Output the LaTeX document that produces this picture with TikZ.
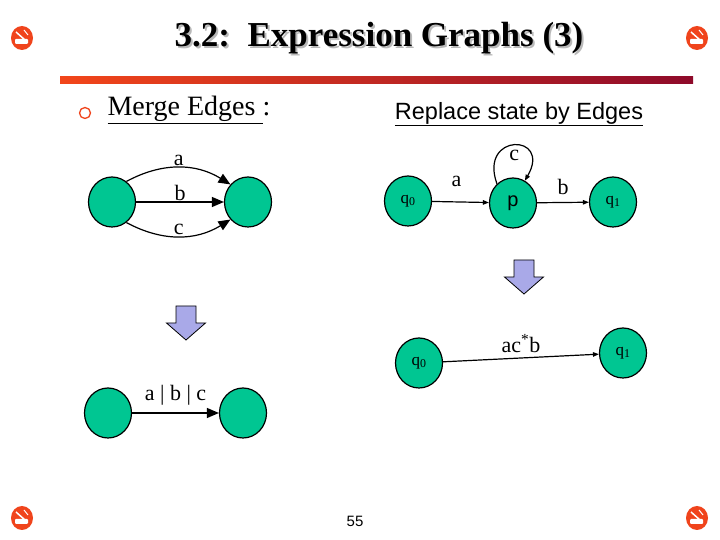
\documentclass[tikz,border=0pt]{standalone}
\usepackage{fontspec}
\setmainfont{Liberation Serif}
\setsansfont{Liberation Sans}
\usetikzlibrary{shapes.geometric, arrows.meta, positioning}
\definecolor{stategreen}{HTML}{00C692}
\definecolor{iconred}{HTML}{F0441C}
\definecolor{barred}{HTML}{F2461A}
\definecolor{bardark}{HTML}{8E0A2A}
\definecolor{arrowblue}{HTML}{A9A9E8}

\begin{document}
\begin{tikzpicture}[
    x=1pt, y=1pt,
    state/.style={ellipse, draw=black, line width=1.2pt, fill=stategreen, minimum width=47pt, minimum height=50pt, inner sep=0pt, font=\fontsize{17}{17}\selectfont},
    lbl/.style={font=\fontsize{22}{22}\selectfont, inner sep=1pt},
    bigarrow/.style={-{Triangle[length=12pt,width=10pt]}, line width=1.2pt},
    thinarrow/.style={-{Triangle[length=6pt,width=4.5pt]}, line width=1.2pt},
    nosmoke/.pic={
        \fill[iconred] (0,0) ellipse (11pt and 12pt);
        \fill[white, rounded corners=1pt] (-7,-6) rectangle (6,-1);
        \draw[white, line width=1.5pt] (-6,6) -- (3,-2);
        \draw[white, line width=1pt] (2,8) -- (6,3);
    },
    downarrow/.pic={
        \draw[fill=arrowblue, line width=0.8pt] (-10,0) -- (10,0) -- (10,-17) -- (19.5,-17) -- (0,-34) -- (-19.5,-17) -- (-10,-17) -- cycle;
    }
]
\useasboundingbox (0,0) rectangle (720,540);
\fill[white] (0,0) rectangle (720,540);

% Header
\pic at (22,502) {nosmoke};
\pic at (697,502) {nosmoke};
\pic at (22,22) {nosmoke};
\pic at (697,22) {nosmoke};
\node[font=\fontsize{35}{35}\selectfont\bfseries, text=gray!55] (shadow) at (381,500) {3.2:\ \ Expression Graphs (3)};
\node[font=\fontsize{35}{35}\selectfont\bfseries] (title) at (379,502) {3.2:\ \ Expression Graphs (3)};
\shade[left color=barred, right color=bardark] (60,456) rectangle (693,463);
\draw[iconred, line width=1.3pt] (85,427) circle (5.5pt);
\node[anchor=west, font=\fontsize{28}{28}\selectfont] (merge) at (104,430) {\underline{Merge Edges }:};
\node[font=\sffamily\fontsize{23.5}{23.5}\selectfont] (replace) at (519,426) {\underline{Replace state by Edges}};

% Nodes
\node[state] (m1) at (112,338) {};
\node[state] (m2) at (248,338) {};

\node[state] (q0) at (408,339) {q\textsubscript{0}};
\node[state, font=\sffamily\fontsize{20}{20}\selectfont] (p) at (513,337) {p};
\node[state] (q1) at (613,338) {q\textsubscript{1}};

\pic at (186,234) {downarrow};
\pic at (524,280) {downarrow};

\node[state] (r0) at (419,177) {q\textsubscript{0}};
\node[state] (r1) at (623,187) {q\textsubscript{1}};

\node[state] (n1) at (108,127) {};
\node[state] (n2) at (243,127) {};

\node[font=\sffamily\fontsize{15}{15}\selectfont] (page) at (355,19) {55};

% Arrows
\draw[bigarrow] (m1.55) to[bend left=30] node[lbl, above] {a} (m2.135);
\draw[bigarrow] (m1) -- node[lbl, above] {b} (m2);
\draw[bigarrow] (m1.-55) to[bend right=30] node[lbl, above] {c} (m2.-135);

\draw[thinarrow] (q0) -- node[lbl, above=14pt, xshift=-4pt] {a} (p);
\draw[thinarrow] (p.130) to[out=110, in=60, looseness=5] node[lbl, below=3pt] {c} (p.62);
\draw[thinarrow] (p) -- node[lbl, above=6pt] {b} (q1);

\draw[thinarrow] (r0) -- node[lbl, above=4pt] {ac\textsuperscript{*}b} (r1);

\draw[bigarrow] (n1) -- node[lbl, above=6pt] {a | b | c} (n2);

\end{tikzpicture}
\end{document}
